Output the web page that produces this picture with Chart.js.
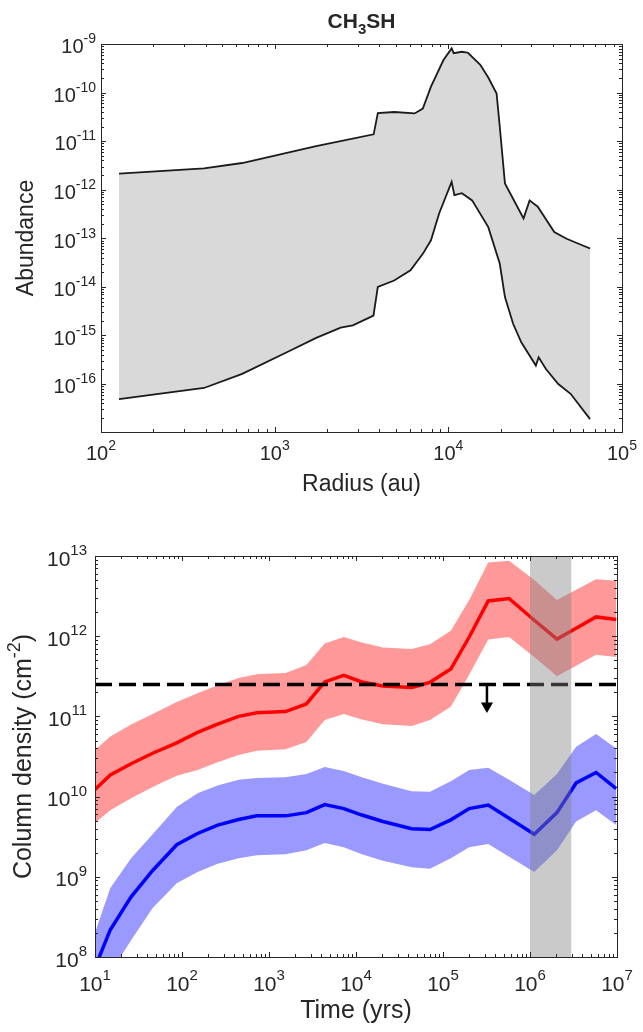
<!DOCTYPE html>
<html>
<head>
<meta charset="utf-8">
<script src="https://cdn.jsdelivr.net/npm/chart.js@4.4.1/dist/chart.umd.min.js"></script>
<style>
  body { margin: 0; background: #fff; }
  #wrap { position: relative; width: 643px; height: 1032px; }
  canvas { position: absolute; left: 0; }
  #top { top: 0; }
  #bottom { top: 500px; }
</style>
</head>
<body>
<div id="wrap">
  <canvas id="top" width="643" height="500"></canvas>
  <canvas id="bottom" width="643" height="532"></canvas>
</div>
<script>
// ---- top panel: CH3SH abundance envelope vs radius (au) ----
const upperRadius = [127, 392, 650, 1734, 3715, 3926, 4875, 6397, 7129, 7943, 9376, 10447, 10740,
  11967, 12972, 15276, 16982, 18967, 19770, 21184, 27102, 29376, 32734, 40738, 47973, 65464];
const upperAbundance = [2.14e-12, 2.75e-12, 3.55e-12, 7.94e-12, 1.38e-11, 3.80e-11, 3.98e-11, 3.72e-11,
  4.68e-11, 1.32e-10, 4.68e-10, 8.13e-10, 6.46e-10, 6.92e-10, 6.61e-10, 3.72e-10, 2.04e-10, 9.55e-11,
  2.0e-11, 1.35e-12, 2.57e-13, 6.03e-13, 4.47e-13, 1.35e-13, 9.77e-14, 6.17e-14];
const lowerRadius = [127, 392, 650, 1183, 1734, 2399, 2818, 3707, 3926, 4875, 6053, 7129, 7943, 8851,
  10447, 10839, 11967, 13709, 16982, 19770, 21184, 23605, 26303, 31915, 33113, 36475, 42954, 50582, 65464];
const lowerAbundance = [4.9e-17, 8.3e-17, 1.62e-16, 4.57e-16, 8.9e-16, 1.45e-15, 1.62e-15, 2.57e-15,
  1.0e-14, 1.35e-14, 2.19e-14, 4.79e-14, 9.1e-14, 3.24e-13, 1.45e-12, 7.76e-13, 8.5e-13, 6.03e-13,
  1.7e-13, 3.02e-14, 6.17e-15, 1.74e-15, 7.24e-16, 2.4e-16, 3.55e-16, 2.04e-16, 1.0e-16, 6.3e-17, 1.9e-17];

// ---- bottom panel: column density (cm^-2) vs time (yrs) ----
const times = [10, 15, 26, 46, 87, 151, 257, 447, 724, 1550, 2690, 4370, 7240, 11700, 20400, 43600,
  70800, 123000, 200000, 331000, 575000, 1120000, 2040000, 3390000, 5750000, 9800000];
const redHigh = [3.8e10, 5.62e10, 7.94e10, 1.07e11, 1.51e11, 1.95e11, 2.45e11, 3.02e11, 3.35e11, 3.47e11,
  4.37e11, 8.13e11, 9.77e11, 8.32e11, 7.24e11, 6.92e11, 7.94e11, 1.17e12, 2.82e12, 8.32e12, 8.71e12,
  5.01e12, 2.82e12, 3.8e12, 5.13e12, 4.9e12];
const redMid = [1.23e10, 1.86e10, 2.57e10, 3.47e10, 4.68e10, 6.31e10, 8.0e10, 1.0e11, 1.11e11, 1.15e11,
  1.43e11, 2.69e11, 3.24e11, 2.69e11, 2.40e11, 2.29e11, 2.66e11, 3.89e11, 9.77e11, 2.75e12, 2.95e12,
  1.58e12, 9.2e11, 1.26e12, 1.74e12, 1.62e12];
const redLow = [4.68e9, 6.76e9, 9.55e9, 1.32e10, 1.82e10, 2.14e10, 2.69e10, 3.31e10, 3.72e10, 3.89e10,
  4.79e10, 9.0e10, 1.07e11, 9.12e10, 8.0e10, 7.59e10, 9.0e10, 1.32e11, 3.31e11, 9.12e11, 9.77e11,
  5.5e11, 3.16e11, 4.27e11, 5.89e11, 5.5e11];
const blueHigh = [2.0e8, 7.24e8, 1.7e9, 3.39e9, 7.41e9, 1.1e10, 1.38e10, 1.62e10, 1.7e10, 1.74e10,
  1.91e10, 2.34e10, 2.09e10, 1.74e10, 1.45e10, 1.17e10, 1.15e10, 1.55e10, 2.14e10, 2.29e10, 1.62e10,
  1.05e10, 1.91e10, 4.17e10, 6.03e10, 3.98e10];
const blueMid = [7.4e7, 2.19e8, 5.62e8, 1.2e9, 2.51e9, 3.47e9, 4.42e9, 5.19e9, 5.75e9, 5.75e9, 6.31e9,
  7.94e9, 7.08e9, 5.89e9, 4.9e9, 3.98e9, 3.89e9, 5.13e9, 7.08e9, 7.85e9, 5.37e9, 3.39e9, 6.31e9,
  1.48e10, 2.0e10, 1.26e10];
const blueLow = [2.24e7, 6.31e7, 1.62e8, 4.07e8, 8.32e8, 1.15e9, 1.45e9, 1.7e9, 1.86e9, 1.91e9, 2.14e9,
  2.63e9, 2.34e9, 1.91e9, 1.58e9, 1.32e9, 1.26e9, 1.7e9, 2.34e9, 2.57e9, 1.78e9, 1.15e9, 2.14e9,
  4.9e9, 6.76e9, 4.42e9];
const limitTimes = [10, 1e7];
const limitValue = 2.5e11;
const arrowTime = 3.2e5;
const arrowTip = 1.35e11;
const windowTimes = [1e6, 3e6];

// tick labels (powers of ten)
const radiusTicks = ['2', '3', '4', '5'];
const abundanceTicks = ['-9', '-10', '-11', '-12', '-13', '-14', '-15', '-16'];
const timeTicks = ['1', '2', '3', '4', '5', '6', '7'];
const densityTicks = ['8', '9', '10', '11', '12', '13'];

const FONT = '"Liberation Sans", Arial, sans-serif';
const INK = '#262626';

const pts = (xs, ys) => xs.map((x, i) => ({ x, y: ys[i] }));

// text with sub/superscript pieces; (cx, cy) is the centre of the capitals
function drawRich(ctx, pieces, cx, cy, size, angle, weight) {
  const w = weight || 'normal';
  const small = Math.round(size * 0.7);
  ctx.save();
  ctx.translate(cx, cy);
  ctx.rotate(angle || 0);
  const widths = pieces.map((p) => {
    ctx.font = `${w} ${p.sup || p.sub ? small : size}px ${FONT}`;
    return ctx.measureText(p.t).width;
  });
  let x = -widths.reduce((a, b) => a + b, 0) / 2;
  ctx.textAlign = 'left';
  ctx.textBaseline = 'alphabetic';
  ctx.fillStyle = INK;
  pieces.forEach((p, i) => {
    ctx.font = `${w} ${p.sup || p.sub ? small : size}px ${FONT}`;
    let dy = size * 0.36;
    if (p.sup) dy -= size * 0.45;
    if (p.sub) dy += size * 0.3;
    ctx.fillText(p.t, x, dy);
    x += widths[i];
  });
  ctx.restore();
}

function drawPower(ctx, exp, x, y, align, size, expSize) {
  ctx.font = `${size}px ${FONT}`;
  const bw = ctx.measureText('10').width;
  ctx.font = `${expSize}px ${FONT}`;
  const ew = ctx.measureText(exp).width;
  const left = align === 'right' ? x - bw - ew : x - (bw + ew) / 2;
  ctx.textAlign = 'left';
  ctx.textBaseline = 'alphabetic';
  ctx.fillStyle = INK;
  ctx.font = `${size}px ${FONT}`;
  ctx.fillText('10', left, y + size * 0.36);
  ctx.font = `${expSize}px ${FONT}`;
  ctx.fillText(exp, left + bw, y + size * 0.36 - size * 0.5);
}

// MATLAB-like boxed log axes: inward ticks on all sides, 10^n labels, titles
const matlabAxes = {
  id: 'matlabAxes',
  afterDraw(chart, args, o) {
    const { ctx, chartArea: a, scales: { x, y } } = chart;
    ctx.save();
    ctx.strokeStyle = INK;
    ctx.lineWidth = 1;
    ctx.beginPath();
    const minorTicks = (scale, fn) => {
      const lo = Math.floor(Math.log10(scale.min));
      const hi = Math.ceil(Math.log10(scale.max));
      for (let d = lo; d <= hi; d++) {
        for (let m = 1; m <= 9; m++) {
          const v = m * Math.pow(10, d);
          if (v < scale.min * 0.999 || v > scale.max * 1.001) continue;
          fn(Math.round(scale.getPixelForValue(v)) + 0.5, m === 1 ? 5 : 3);
        }
      }
    };
    minorTicks(x, (px, len) => {
      ctx.moveTo(px, a.bottom); ctx.lineTo(px, a.bottom - len);
      ctx.moveTo(px, a.top); ctx.lineTo(px, a.top + len);
    });
    minorTicks(y, (py, len) => {
      ctx.moveTo(a.left, py); ctx.lineTo(a.left + len, py);
      ctx.moveTo(a.right, py); ctx.lineTo(a.right - len, py);
    });
    ctx.stroke();
    ctx.strokeRect(Math.round(a.left) + 0.5, Math.round(a.top) + 0.5,
      Math.round(a.right - a.left), Math.round(a.bottom - a.top));

    o.xTicks.forEach((e) => {
      drawPower(ctx, e, x.getPixelForValue(Math.pow(10, +e)), a.bottom + o.xLabelGap, 'center', o.tickSize, o.expSize);
    });
    o.yTicks.forEach((e) => {
      drawPower(ctx, e, a.left - o.yLabelGap, y.getPixelForValue(Math.pow(10, +e)) + 2, 'right', o.tickSize, o.expSize);
    });
    const cx = (a.left + a.right) / 2;
    const cy = (a.top + a.bottom) / 2;
    drawRich(ctx, o.xTitle, cx, a.bottom + o.xTitleGap, o.titleSize, 0);
    drawRich(ctx, o.yTitle, o.yTitleX, cy + (o.yTitleShift || 0), o.titleSize, -Math.PI / 2);
    if (o.title) drawRich(ctx, o.title, cx, o.titleY, o.titleFont, 0, 'bold');
    ctx.restore();
  }
};

Chart.register(matlabAxes);

const hiddenLog = (min, max) => ({ type: 'logarithmic', min, max, display: false });

new Chart(document.getElementById('top'), {
  type: 'line',
  data: {
    datasets: [
      {
        data: pts(upperRadius, upperAbundance),
        borderColor: '#1a1a1a',
        borderWidth: 1.8,
        backgroundColor: '#d9d9d9',
        fill: '+1',
        order: 2,
      },
      {
        data: pts(lowerRadius, lowerAbundance),
        borderColor: '#1a1a1a',
        borderWidth: 1.8,
        fill: false,
        order: 1,
      },
    ],
  },
  options: {
    responsive: false,
    animation: false,
    layout: { padding: { left: 101, right: 21, top: 44, bottom: 68 } },
    elements: { point: { radius: 0 }, line: { tension: 0 } },
    scales: { x: hiddenLog(100, 1e5), y: hiddenLog(1.03e-17, 1e-9) },
    plugins: {
      legend: { display: false },
      tooltip: { enabled: false },
      matlabAxes: {
        xTicks: radiusTicks,
        yTicks: abundanceTicks,
        tickSize: 20, expSize: 14,
        xLabelGap: 21, yLabelGap: 5,
        titleSize: 23,
        xTitle: [{ t: 'Radius (au)' }],
        xTitleGap: 51,
        yTitle: [{ t: 'Abundance' }],
        yTitleX: 25,
        title: [{ t: 'CH' }, { t: '3', sub: true }, { t: 'SH' }],
        titleY: 20, titleFont: 21,
      },
    },
  },
});

new Chart(document.getElementById('bottom'), {
  type: 'line',
  data: {
    datasets: [
      { data: pts(times, redHigh), borderWidth: 0, backgroundColor: 'rgba(255,0,0,0.4)', fill: '+1', order: 9 },
      { data: pts(times, redLow), borderWidth: 0, fill: false, order: 8 },
      { data: pts(times, blueHigh), borderWidth: 0, backgroundColor: 'rgba(0,0,255,0.4)', fill: '+1', order: 7 },
      { data: pts(times, blueLow), borderWidth: 0, fill: false, order: 6 },
      { data: pts(times, redMid), borderColor: '#ff0000', borderWidth: 3.5, fill: false, order: 5 },
      { data: pts(times, blueMid), borderColor: '#0000ff', borderWidth: 3.5, fill: false, order: 4 },
      {
        data: pts(limitTimes, limitTimes.map(() => limitValue)),
        borderColor: '#000', borderWidth: 3.5, borderDash: [17, 7], fill: false, order: 3,
      },
      {
        data: [{ x: arrowTime, y: limitValue }, { x: arrowTime, y: arrowTip }],
        borderColor: '#000', borderWidth: 2.5, fill: false, order: 2,
        pointRadius: [0, 7], pointStyle: 'triangle', pointRotation: 180,
        pointBackgroundColor: '#000', pointBorderColor: '#000', pointBorderWidth: 0,
      },
      {
        data: pts(windowTimes, windowTimes.map(() => 1e13)),
        borderWidth: 0, backgroundColor: 'rgba(128,128,128,0.42)', fill: 'start', order: 0,
      },
    ],
  },
  options: {
    responsive: false,
    animation: false,
    layout: { padding: { left: 95, right: 26, top: 56, bottom: 75 } },
    elements: { point: { radius: 0 }, line: { tension: 0 } },
    scales: { x: hiddenLog(10, 1e7), y: hiddenLog(1e8, 1e13) },
    plugins: {
      legend: { display: false },
      tooltip: { enabled: false },
      matlabAxes: {
        xTicks: timeTicks,
        yTicks: densityTicks,
        tickSize: 21, expSize: 15,
        xLabelGap: 26, yLabelGap: 8,
        titleSize: 25,
        xTitle: [{ t: 'Time (yrs)' }],
        xTitleGap: 52,
        yTitle: [{ t: 'Column density (cm' }, { t: '-2', sup: true }, { t: ')' }],
        yTitleX: 22,
        yTitleShift: 0,
      },
    },
  },
});
</script>
</body>
</html>
